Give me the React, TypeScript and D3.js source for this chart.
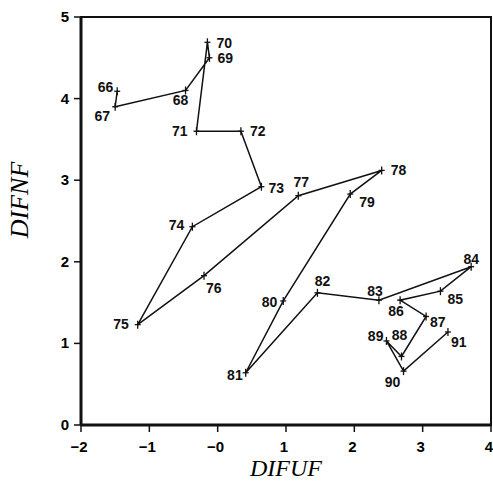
import React from 'react';
import * as d3 from 'd3';

// years (19xx) along the trajectory
const years = [66, 67, 68, 69, 70, 71, 72, 73, 74, 75, 76, 77, 78, 79, 80, 81, 82, 83, 84, 85, 86, 87, 88, 89, 90, 91];
const difuf = [-1.47, -1.5, -0.47, -0.12, -0.15, -0.31, 0.34, 0.64, -0.37, -1.17, -0.2, 1.18, 2.4, 1.94, 0.96, 0.41, 1.46, 2.36, 3.71, 3.26, 2.67, 3.05, 2.69, 2.47, 2.72, 3.37];
const difnf = [4.09, 3.9, 4.1, 4.5, 4.69, 3.6, 3.6, 2.92, 2.43, 1.23, 1.83, 2.81, 3.12, 2.83, 1.52, 0.64, 1.62, 1.53, 1.94, 1.64, 1.53, 1.33, 0.84, 1.03, 0.66, 1.14];

const xTicks = [-2, -1, 0, 1, 2, 3, 4];
const xTickLabels = ['\u22122', '\u22121', '\u22120', '1', '2', '3', '4'];
const yTicks = [0, 1, 2, 3, 4, 5];

// label placement around each point: [anchor, dx, dy]
const labelPos: Record<number, [string, number, number]> = {
  66: ['end', -4, 1], 67: ['end', -5, 14], 68: ['middle', -5, 15], 69: ['start', 8, 5],
  70: ['start', 9, 6], 71: ['end', -9, 5], 72: ['start', 9, 5], 73: ['start', 7, 6],
  74: ['end', -8, 3], 75: ['end', -9, 4], 76: ['start', 2, 17], 77: ['middle', 3, -9],
  78: ['start', 9, 5], 79: ['start', 9, 13], 80: ['end', -6, 6], 81: ['end', -3, 7],
  82: ['middle', 5, -7], 83: ['middle', -4, -4], 84: ['middle', 0, -3], 85: ['start', 7, 13],
  86: ['middle', -4, 16], 87: ['start', 4, 11], 88: ['middle', -2, -16], 89: ['end', -3, 0],
  90: ['middle', -11, 16], 91: ['start', 3, 15],
};

const W = 493;
const H = 482;

export default function App() {
  const x = d3.scaleLinear().domain([-2, 4]).range([81, 491]);
  const y = d3.scaleLinear().domain([0, 5]).range([425, 17]);

  const pts = years.map((yr, i) => ({ yr, u: difuf[i], n: difnf[i] }));
  const line = d3.line<{ u: number; n: number }>()
    .x(d => x(d.u))
    .y(d => y(d.n));

  const labelFont = { fontFamily: 'Liberation Sans, Arial, sans-serif', fontWeight: 700, fontSize: 14 };

  return (
    <div style={{ position: 'absolute', left: 0, top: 0 }}>
      <svg width={W} height={H} style={{ background: 'white', display: 'block' }}>
        {/* plot frame */}
        <rect x={x(-2)} y={y(5)} width={x(4) - x(-2)} height={y(0) - y(5)}
          fill="none" stroke="#111" strokeWidth={2} />
        <line x1={x(-2)} x2={x(-2)} y1={y(5)} y2={y(0)} stroke="#111" strokeWidth={3} />
        <line x1={x(-2)} x2={x(4)} y1={y(0)} y2={y(0)} stroke="#111" strokeWidth={3} />

        {/* y axis */}
        {yTicks.map(t => (
          <g key={'y' + t}>
            <line x1={x(-2) - 7} x2={x(-2)} y1={y(t)} y2={y(t)} stroke="#111" strokeWidth={1.5} />
            <text x={x(-2) - 12} y={y(t) + 5} textAnchor="end" {...labelFont} fontSize={15}>{t}</text>
          </g>
        ))}

        {/* x axis */}
        {xTicks.map((t, i) => (
          <g key={'x' + t}>
            <line x1={x(t)} x2={x(t)} y1={y(0)} y2={y(0) + 7} stroke="#111" strokeWidth={1.5} />
            <text x={x(t) - 2} y={y(0) + 27} textAnchor="middle" {...labelFont} fontSize={15}>{xTickLabels[i]}</text>
          </g>
        ))}

        {/* trajectory */}
        <path d={line(pts) ?? ''} fill="none" stroke="#111" strokeWidth={1.5} />
        {pts.map(p => (
          <g key={'m' + p.yr} stroke="#111" strokeWidth={1.3}>
            <line x1={x(p.u) - 3} x2={x(p.u) + 3} y1={y(p.n)} y2={y(p.n)} />
            <line x1={x(p.u)} x2={x(p.u)} y1={y(p.n) - 4} y2={y(p.n) + 4} />
          </g>
        ))}
        {pts.map(p => {
          const [anchor, dx, dy] = labelPos[p.yr];
          return (
            <text key={'l' + p.yr} x={x(p.u) + dx} y={y(p.n) + dy} textAnchor={anchor as any} {...labelFont} fill="#111">
              {p.yr}
            </text>
          );
        })}

        {/* axis titles */}
        <text x={286} y={476} textAnchor="middle" fontFamily="Liberation Serif, Times New Roman, serif"
          fontStyle="italic" fontSize={24}>DIFUF</text>
        <text transform="translate(28,200) rotate(-90)" textAnchor="middle"
          fontFamily="Liberation Serif, Times New Roman, serif" fontStyle="italic" fontSize={26}>DIFNF</text>
      </svg>
    </div>
  );
}
